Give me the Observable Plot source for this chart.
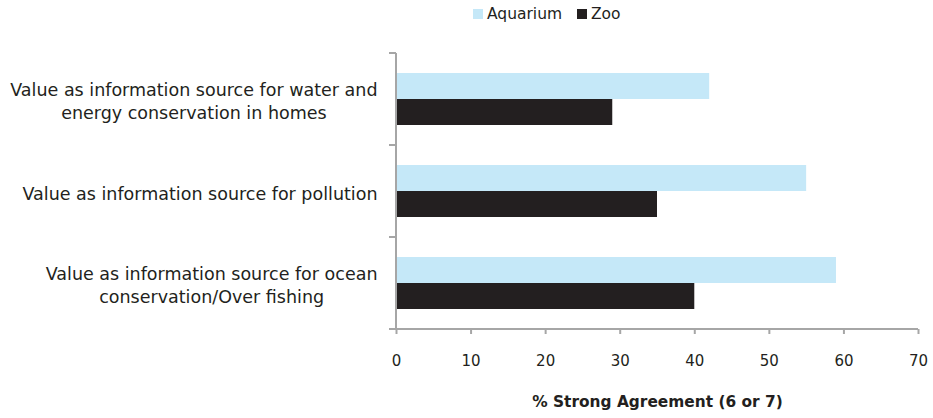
<!DOCTYPE html>
<html>
<head>
<meta charset="utf-8">
<script src="https://cdn.jsdelivr.net/npm/d3@7"></script>
<script src="https://cdn.jsdelivr.net/npm/@observablehq/plot@0.6"></script>
<style>
  html, body { margin: 0; padding: 0; background: #fff; }
  body { width: 933px; font-family: "DejaVu Sans", sans-serif; color: #231f20; }
  .legend { height: 30px; position: relative; font-size: 15.5px; }
  .legend .item { position: absolute; top: 5px; display: flex; align-items: center; }
  .legend .sw { width: 10px; height: 10px; margin-right: 4px; }
  #chart svg { display: block; font-family: "DejaVu Sans", sans-serif; }
  #chart g[aria-label="x-axis label"] { font-weight: bold; font-size: 15.4px; }
</style>
</head>
<body>
<div class="legend" id="legend"></div>
<div id="chart"></div>
<script>
// Survey categories (top to bottom), with line breaks as shown on the axis
const categories = [
  "Value as information source for water and\nenergy conservation in homes",
  "Value as information source for pollution",
  "Value as information source for ocean\nconservation/Over fishing"
];
const series = ["Aquarium", "Zoo"];
const aquarium = [42, 55, 59];
const zoo = [29, 35, 40];
const xTicks = [0, 10, 20, 30, 40, 50, 60, 70];
const xLabel = "% Strong Agreement (6 or 7)";
const colors = ["#c5e8f8", "#231f20"];

const rows = categories.flatMap((c, i) => [
  {category: c, series: series[0], value: aquarium[i]},
  {category: c, series: series[1], value: zoo[i]}
]);

const W = 933, H = 388;
const mt = 23, mb = 89, ml = 396, mr = 15;
const band = (H - mt - mb) / categories.length;
const barH = 26, groupTop = 20;
const gray = "#a6a6a6";
const ink = "#231f20";
const labelSize = 17.5;
const labelFont = `${labelSize}px "DejaVu Sans"`;

// legend
const legend = document.getElementById("legend");
[[473, 0], [577, 1]].forEach(([left, i]) => {
  const it = document.createElement("div");
  it.className = "item";
  it.style.left = left + "px";
  it.innerHTML = `<span class="sw" style="background:${colors[i]}"></span><span>${series[i]}</span>`;
  legend.appendChild(it);
});

// measure widest line of each category label so lines can be centred on it
const ctx = document.createElement("canvas").getContext("2d");
ctx.font = labelFont;
const widest = categories.map(c => d3.max(c.split("\n"), s => ctx.measureText(s).width));

// axis line, category separators
function axisFrame(index, {y}, values, {width, height, marginLeft, marginRight, marginTop, marginBottom}) {
  const g = d3.create("svg:g").attr("fill", "none").attr("stroke", gray).attr("stroke-width", 2);
  const bottom = height - marginBottom;
  g.append("path").attr("d", `M${marginLeft},${marginTop}V${bottom}H${width - marginRight}`);
  const edges = [...y.domain().map(c => y(c)), bottom];
  for (const e of edges) g.append("path").attr("d", `M${marginLeft - 7},${e}H${marginLeft}`);
  return g.node();
}

const chart = Plot.plot({
  width: W,
  height: H,
  marginTop: mt,
  marginBottom: mb,
  marginLeft: ml,
  marginRight: mr,
  style: {fontSize: "15px", color: ink, background: "#fff"},
  x: {
    domain: [0, 70],
    ticks: xTicks,
    tickSize: 5,
    tickPadding: 21,
    tickFormat: d3.format("d"),
    label: xLabel,
    labelAnchor: "center",
    labelArrow: "none",
    labelOffset: 77
  },
  y: {domain: categories, axis: null, padding: 0},
  color: {domain: series, range: colors},
  marks: [
    Plot.barX(rows.filter(d => d.series === series[0]), {
      x: "value", y: "category", fill: colors[0],
      insetTop: groupTop, insetBottom: band - groupTop - barH
    }),
    Plot.barX(rows.filter(d => d.series === series[1]), {
      x: "value", y: "category", fill: colors[1],
      insetTop: groupTop + barH, insetBottom: band - groupTop - 2 * barH
    }),
    axisFrame,
    ...categories.map((c, i) => Plot.text([c], {
      y: d => d,
      text: d => d,
      frameAnchor: "left",
      textAnchor: "middle",
      dx: -(19 + widest[i] / 2),
      dy: 1,
      lineHeight: 1.3,
      fontSize: labelSize,
      fill: ink
    }))
  ]
});

chart.querySelectorAll('[aria-label="x-axis tick"]').forEach(n => {
  n.setAttribute("stroke", gray);
  n.setAttribute("stroke-width", 2);
});
document.getElementById("chart").appendChild(chart);
</script>
</body>
</html>
